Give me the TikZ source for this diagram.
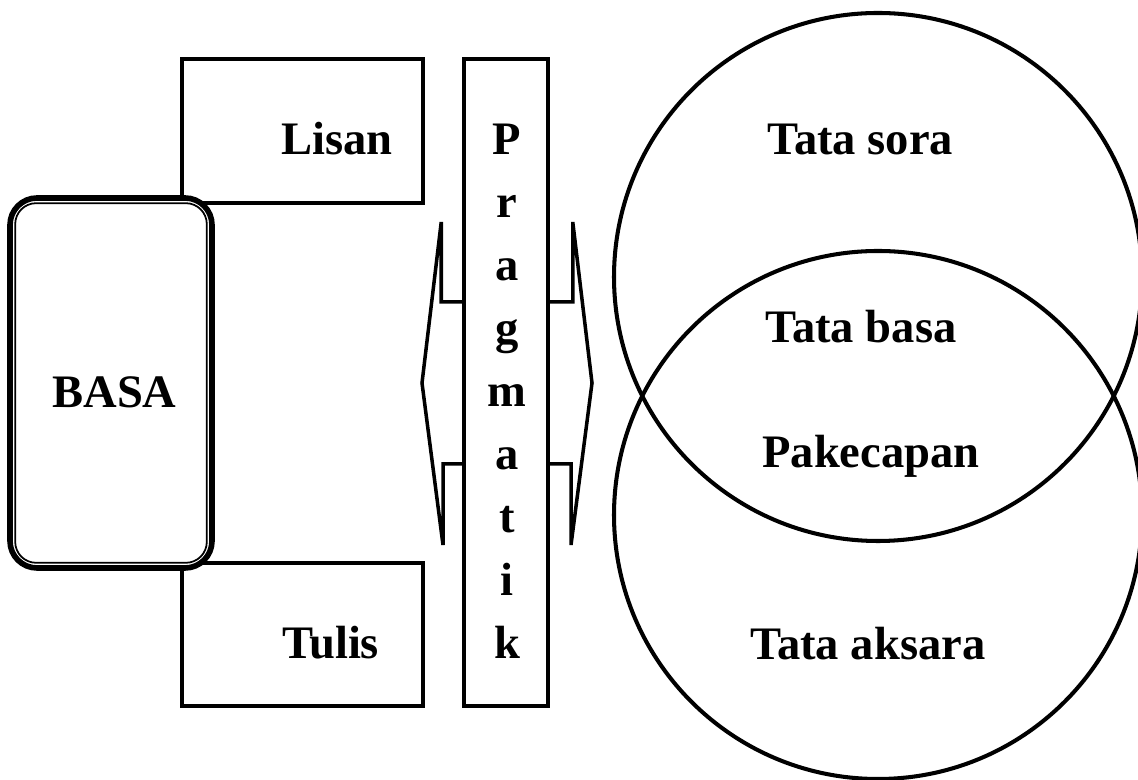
\documentclass[tikz,border=0pt]{standalone}
\usepackage{fontspec}
\setmainfont{Liberation Serif}
\usetikzlibrary{positioning, calc}

\begin{document}
\begin{tikzpicture}
    \tikzstyle{box} = [rectangle, draw=black, line width=2pt, fill=white, inner sep=0pt]
    \tikzstyle{ring} = [circle, draw=black, line width=2.3pt, minimum size=10.56cm, inner sep=0pt]
    \tikzstyle{word} = [font=\bfseries\fontsize{26.5}{30}\selectfont, inner sep=0pt]
    \tikzstyle{shaft} = [line width=2pt, line join=miter]

    \useasboundingbox (0,0) rectangle (22.76,15.6);

    % the two overlapping circles
    \node[ring] (sora) at (17.56,10.06) {};
    \node[ring] (aksara) at (17.56,5.3) {};

    % boxes
    \node[box, minimum width=4.82cm, minimum height=2.88cm] (lisan) at (6.05,12.98) {};
    \node[box, minimum width=4.82cm, minimum height=2.86cm] (tulis) at (6.05,2.91) {};
    \node[box, minimum width=1.68cm, minimum height=12.94cm] (prag) at (10.12,7.95) {};
    \node[box, rounded corners=0.54cm, line width=3.2pt, minimum width=4.04cm, minimum height=7.4cm] (basa) at (2.22,7.94) {};
    \draw[line width=1pt, rounded corners=0.42cm] ([shift={(0.16,0.16)}]basa.south west) rectangle ([shift={(-0.16,-0.16)}]basa.north east);

    % double arrow through the bar
    \draw[shaft] ([yshift=1.61cm]prag.west) -- ++(-0.42,0) -- ++(0,1.6) -- (8.44,7.94) -- (8.86,4.7) -- (8.86,6.32) -- ([yshift=-1.63cm]prag.west);
    \draw[shaft] ([yshift=1.61cm]prag.east) -- ++(0.46,0) -- ++(0,1.6) -- (11.84,7.94) -- (11.42,4.7) -- (11.42,6.32) -- ([yshift=-1.63cm]prag.east);

    \node[word, anchor=base west] (basa_txt) at (1.04,7.44) {BASA};
    \node[word, anchor=base west] (lisan_txt) at (5.62,12.5) {Lisan};
    \node[word, anchor=base west] (tulis_txt) at (5.64,2.42) {Tulis};

    \node[word, anchor=base] (p1) at (10.14,12.5) {P};
    \node[word, anchor=base] (p2) at (10.14,11.2425) {r};
    \node[word, anchor=base] (p3) at (10.14,9.985) {a};
    \node[word, anchor=base] (p4) at (10.14,8.7275) {g};
    \node[word, anchor=base] (p5) at (10.14,7.47) {m};
    \node[word, anchor=base] (p6) at (10.14,6.2125) {a};
    \node[word, anchor=base] (p7) at (10.14,4.955) {t};
    \node[word, anchor=base] (p8) at (10.14,3.6975) {i};
    \node[word, anchor=base] (p9) at (10.14,2.42) {k};

    \node[word, anchor=base west] (sora_txt) at (15.34,12.5) {Tata sora};
    \node[word, anchor=base west] (basa2_txt) at (15.3,8.74) {Tata basa};
    \node[word, anchor=base west] (kecap_txt) at (15.24,6.24) {Pakecapan};
    \node[word, anchor=base west] (aksara_txt) at (15.0,2.4) {Tata aksara};
\end{tikzpicture}
\end{document}
